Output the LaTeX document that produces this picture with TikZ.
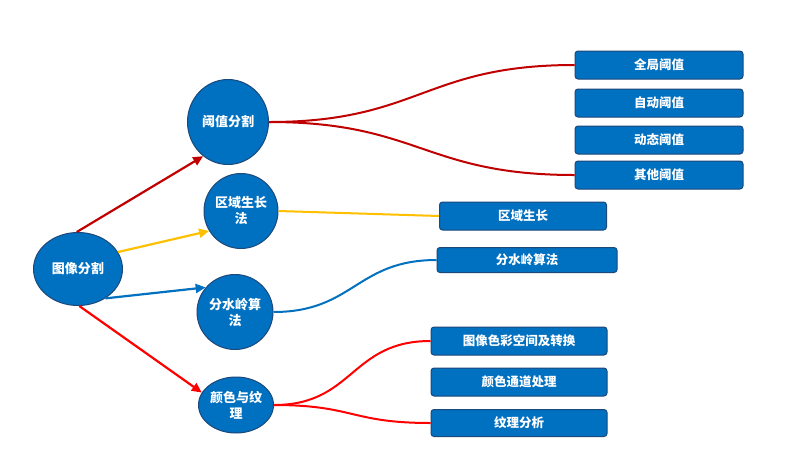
\documentclass[tikz,border=0pt]{standalone}
\usepackage{fontspec}
\newfontfamily\cjk{Noto Sans CJK SC}
\usetikzlibrary{arrows.meta,shapes.geometric}
\definecolor{nodeblue}{RGB}{0,112,192}
\definecolor{nodeedge}{RGB}{28,72,122}
\definecolor{dred}{RGB}{192,0,0}
\definecolor{gold}{RGB}{255,192,0}
\definecolor{lblue}{RGB}{0,112,192}
\definecolor{bred}{RGB}{255,0,0}
\begin{document}
\begin{tikzpicture}[x=1pt,y=-1pt,
  hub/.style={ellipse, draw=nodeedge, line width=1pt, fill=nodeblue, text=white,
    font=\cjk\bfseries\fontsize{13}{16}\selectfont, align=center, inner sep=0pt},
  leaf/.style={rectangle, rounded corners=3pt, draw=nodeedge, line width=1pt, fill=nodeblue,
    text=white, font=\cjk\bfseries\fontsize{12.5}{15}\selectfont, inner sep=0pt,
    minimum width=168pt, minimum height=28pt},
  arr/.style={line width=2.2pt, -{Triangle[length=10pt,width=9pt]}},
  link/.style={line width=2pt}]
\useasboundingbox[fill=white] (0,0) rectangle (807,459);

% hubs
\node[hub, minimum width=89pt, minimum height=73pt] (im) at (78,269) {图像分割};
\node[hub, minimum width=81pt, minimum height=85pt] (th) at (228,122) {阈值分割};
\node[hub, minimum width=74pt, minimum height=75pt] (rg) at (241,211) {区域生长\\法};
\node[hub, minimum width=76pt, minimum height=75pt] (ws) at (235,312) {分水岭算\\法};
\node[hub, minimum width=75pt, minimum height=56pt] (ct) at (236,405) {颜色与纹\\理};

% leaves
\node[leaf] (b1) at (659,65) {全局阈值};
\node[leaf] (b2) at (659,103) {自动阈值};
\node[leaf] (b3) at (659,140) {动态阈值};
\node[leaf] (b4) at (659,175) {其他阈值};
\node[leaf, minimum width=167pt] (r1) at (523,216) {区域生长};
\node[leaf, minimum width=180pt, minimum height=25pt] (w1) at (527,260) {分水岭算法};
\node[leaf, minimum width=176pt] (c1) at (519,341) {图像色彩空间及转换};
\node[leaf, minimum width=176pt] (c2) at (519,382) {颜色通道处理};
\node[leaf, minimum width=176pt, minimum height=27pt] (c3) at (519,423) {纹理分析};

% arrows from root
\draw[arr,dred] (im.92) -- (th.234);
\draw[arr,gold] (im.23) -- (rg.212);
\draw[arr,lblue] (im.313) -- (ws.140);
\draw[arr,bred] (im.272) -- (ct.160);

% links to leaves
\draw[link,dred] (th.east) .. controls +(150,0) and +(-150,0) .. (b1.west);
\draw[link,dred] (th.east) .. controls +(150,0) and +(-150,0) .. (b4.west);
\draw[link,gold] (rg.east) -- (r1.west);
\draw[link,lblue] (ws.east) .. controls +(80,0) and +(-80,0) .. (w1.west);
\draw[link,bred] (ct.east) .. controls +(80,0) and +(-80,0) .. (c1.west);
\draw[link,bred] (ct.east) .. controls +(80,0) and +(-80,0) .. (c3.west);
\end{tikzpicture}
\end{document}
